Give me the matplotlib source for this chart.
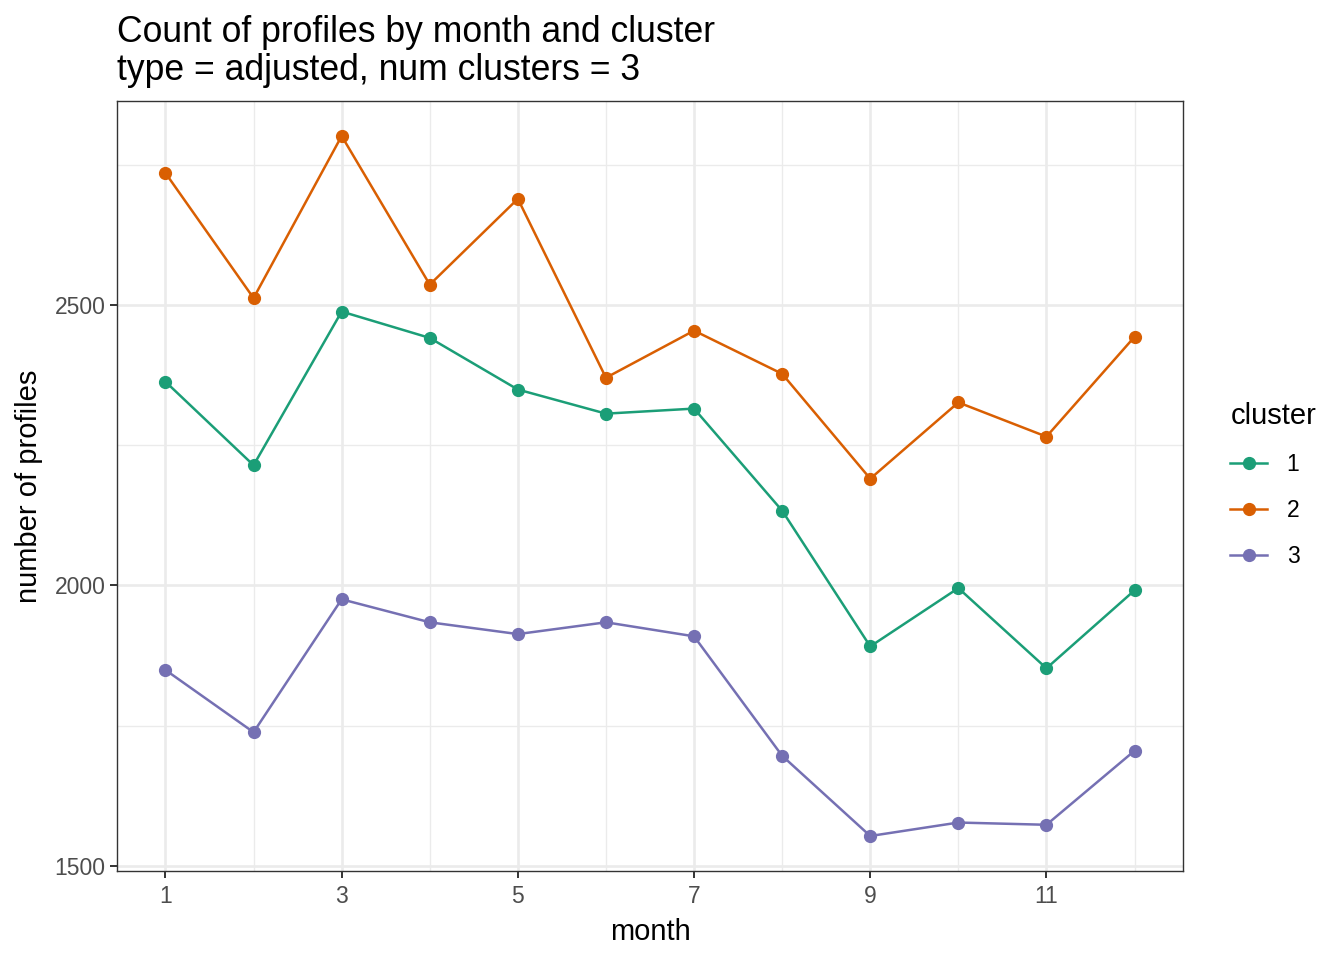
import matplotlib
matplotlib.use("Agg")
import matplotlib.pyplot as plt
from matplotlib.lines import Line2D

months = [1, 2, 3, 4, 5, 6, 7, 8, 9, 10, 11, 12]
cluster1 = [2363, 2214, 2488, 2441, 2349, 2306, 2315, 2133, 1891, 1995, 1852, 1991]
cluster2 = [2735, 2512, 2801, 2536, 2689, 2370, 2454, 2377, 2190, 2326, 2265, 2443]
cluster3 = [1849, 1738, 1975, 1934, 1913, 1934, 1909, 1696, 1553, 1577, 1573, 1705]
series = {"1": cluster1, "2": cluster2, "3": cluster3}
colors = {"1": "#1B9E77", "2": "#D95F02", "3": "#7570B3"}
x_ticks = [1, 3, 5, 7, 9, 11]
y_ticks = [1500, 2000, 2500]
title_lines = ['Count of profiles by month and cluster', 'type = adjusted, num clusters = 3']

plt.rcParams['font.family'] = ['Liberation Sans', 'DejaVu Sans']

fig = plt.figure(figsize=(13.44, 9.6), dpi=100)
ax = fig.add_axes([117/1344, 1-871/960, (1183-117)/1344, (871-101)/960])

ax.set_xlim(0.45, 12.55)
ax.set_ylim(1490.6, 2863.4)

ax.set_xticks(x_ticks)
ax.set_xticks([2, 4, 6, 8, 10, 12], minor=True)
ax.set_yticks(y_ticks)
ax.set_yticks([1750, 2250, 2750], minor=True)

ax.grid(which='major', color='#EBEBEB', linewidth=1.9, zorder=0)
ax.grid(which='minor', color='#EBEBEB', linewidth=0.95, zorder=0)
ax.set_axisbelow(True)

for k, vals in series.items():
    ax.plot(months, vals, color=colors[k], linewidth=1.8, marker='o',
            markersize=8.5, zorder=3)

for s in ax.spines.values():
    s.set_color('#333333')
    s.set_linewidth(1.0)

ax.tick_params(which='major', length=5.3, width=1.4, color='#333333',
               labelsize=16.5, labelcolor='#4D4D4D', pad=3)
ax.tick_params(axis='x', which='major', pad=5)
ax.tick_params(which='minor', length=0)

ax.set_xlabel('month', fontsize=21, labelpad=7)
ax.set_ylabel('number of profiles', fontsize=21, labelpad=8)

fig.text(117/1344, 1-33/960, title_lines[0], fontsize=25.6, ha='left', va='center')
fig.text(117/1344, 1-71/960, title_lines[1], fontsize=25.6, ha='left', va='center')

handles = [Line2D([0], [0], color=colors[k], linewidth=1.8, marker='o', markersize=8.5)
           for k in series]
leg = fig.legend(handles, list(series.keys()), title='cluster', loc='center left',
                 bbox_to_anchor=(1219/1344, 1-485/960), frameon=False,
                 fontsize=16.5, title_fontsize=21, handlelength=1.6,
                 labelspacing=1.0, handletextpad=0.85, borderpad=0)
leg._legend_box.align = 'left'

fig.savefig('out.png', dpi=100)
